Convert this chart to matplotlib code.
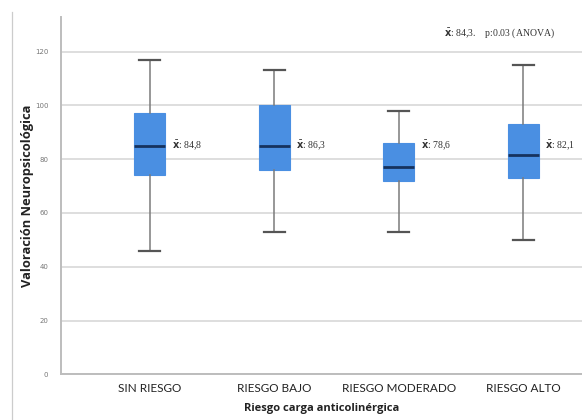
import matplotlib
matplotlib.use("Agg")
import matplotlib.pyplot as plt
from matplotlib.lines import Line2D

categories = ["SIN RIESGO", "RIESGO BAJO", "RIESGO MODERADO", "RIESGO ALTO"]
whisker_low = [46, 53, 53, 50]
q1 = [74, 76, 72, 73]
median = [85, 85, 77, 81.5]
q3 = [97, 100, 86, 93]
whisker_high = [117, 113, 98, 115]
mean_labels = ["84,8", "86,3", "78,6", "82,1"]
yticks = [0, 20, 40, 60, 80, 100, 120]
overall_note = "84,3.    p:0.03 (ANOVA)"

W, H = 582, 420
fig = plt.figure(figsize=(W / 100, H / 100), dpi=100)
ax = fig.add_axes([61 / W, (H - 374.3) / H, (W - 61) / W, (374.3 - 16.7) / H])

stats = []
for i in range(len(categories)):
    stats.append(dict(whislo=whisker_low[i], q1=q1[i], med=median[i],
                      q3=q3[i], whishi=whisker_high[i], fliers=[], label=categories[i]))

ax.bxp(stats, positions=list(range(len(categories))), widths=0.25,
       patch_artist=True, showfliers=False,
       boxprops=dict(facecolor="#4a8fe2", edgecolor="#4a8fe2", linewidth=0.8),
       medianprops=dict(color="#16325e", linewidth=2.0),
       whiskerprops=dict(color="#7a7a7a", linewidth=1.1),
       capprops=dict(color="#555555", linewidth=1.6),
       capwidths=0.17, zorder=3)

ax.set_xlim(-0.712, 3.47)
ax.set_ylim(0, 133)
ax.set_yticks(yticks)
ax.set_yticklabels([str(v) for v in yticks], fontsize=5, color="#777777")
ax.set_xticks(range(len(categories)))
ax.set_xticklabels(categories, fontsize=8.5, family="Lato", color="#222222")
ax.tick_params(axis="both", length=0, pad=6)
ax.tick_params(axis="y", pad=9)
ax.grid(axis="y", color="#dedede", linewidth=1.4, zorder=0)
ax.set_axisbelow(True)
for s in ["top", "right"]:
    ax.spines[s].set_visible(False)
for s in ["left", "bottom"]:
    ax.spines[s].set_color("#bdbdbd")
    ax.spines[s].set_linewidth(1.4)

ax.set_xlabel("Riesgo carga anticolinérgica", fontsize=8, fontweight="bold",
              family="Open Sans", labelpad=7, color="#222222")
ax.set_ylabel("Valoración Neuropsicológica", fontsize=9.3, fontweight="bold",
              family="Open Sans", labelpad=0.5, color="#222222")

for i, m in enumerate(mean_labels):
    ax.text(i + 0.175, 85, r"$\bar{\mathbf{x}}$: " + m, fontsize=7, family="Liberation Serif",
            va="center", ha="left", color="#333333")

ax.text(0.735, 0.955, r"$\bar{\mathbf{x}}$: " + overall_note, transform=ax.transAxes,
        fontsize=7, family="Liberation Serif", va="center", ha="left", color="#333333")

fig.add_artist(Line2D([11.5 / W, 11.5 / W], [0, 1 - 12 / H], transform=fig.transFigure,
                      color="#cccccc", linewidth=0.9))

fig.savefig("out.png", dpi=100)
